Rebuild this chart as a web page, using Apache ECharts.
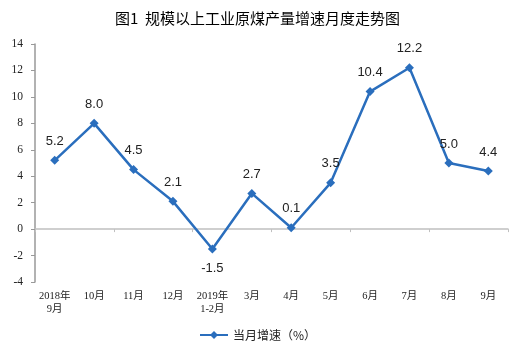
<!DOCTYPE html>
<html>
<head>
<meta charset="utf-8">
<script src="https://cdn.jsdelivr.net/npm/echarts@6/dist/echarts.min.js"></script>
<style>
  html, body { margin: 0; padding: 0; background: #fff; }
  #chart { width: 515px; height: 354px; }
</style>
</head>
<body>
<div id="chart"></div>
<script>
// 月份（横轴）
var months = ['2018年\n9月', '10月', '11月', '12月', '2019年\n1-2月', '3月', '4月', '5月', '6月', '7月', '8月', '9月'];
// 当月增速 (%)
var growth = [5.2, 8.0, 4.5, 2.1, -1.5, 2.7, 0.1, 3.5, 10.4, 12.2, 5.0, 4.4];
var yTicks = { min: -4, max: 14, step: 2 };

var lineColor = '#2a6ebd';
var chart = echarts.init(document.getElementById('chart'));

chart.setOption({
  animation: false,
  title: {
    text: '图1  规模以上工业原煤产量增速月度走势图',
    left: 'center',
    top: 6,
    textStyle: {
      fontFamily: 'Noto Sans CJK SC',
      fontSize: 15,
      fontWeight: 'normal',
      color: '#000'
    }
  },
  legend: {
    bottom: 8,
    left: 'center',
    itemWidth: 28,
    itemHeight: 10,
    textStyle: { fontFamily: 'Noto Sans CJK SC', fontSize: 12, color: '#222' },
    data: ['当月增速（%）']
  },
  grid: { left: 35, right: 7, top: 44, bottom: 72 },
  xAxis: [
    {
      type: 'category',
      data: months,
      position: 'bottom',
      axisLine: { show: false, onZero: false },
      axisTick: { show: false },
      axisLabel: {
        interval: 0,
        margin: 8,
        lineHeight: 13,
        fontFamily: 'Liberation Serif, Noto Sans CJK SC',
        fontSize: 10.5,
        color: '#222'
      }
    },
    {
      type: 'category',
      data: months,
      position: 'bottom',
      axisLine: { show: true, onZero: true, lineStyle: { color: '#c0c0c0', width: 1.5 } },
      axisTick: { show: true, inside: false, length: 3, lineStyle: { color: '#c0c0c0' } },
      axisLabel: { show: false }
    }
  ],
  yAxis: {
    type: 'value',
    min: yTicks.min,
    max: yTicks.max,
    interval: yTicks.step,
    axisLine: { show: true, lineStyle: { color: '#999', width: 1.5 } },
    axisTick: { show: true, length: 4, lineStyle: { color: '#999' } },
    splitLine: { show: false },
    axisLabel: {
      margin: 12,
      fontFamily: 'Liberation Serif',
      fontSize: 11.5,
      color: '#222'
    }
  },
  series: [
    {
      name: '当月增速（%）',
      type: 'line',
      data: growth.map(function (v) {
        return v < 0 ? { value: v, label: { position: 'bottom' } } : v;
      }),
      symbol: 'diamond',
      symbolSize: 9,
      itemStyle: { color: lineColor },
      lineStyle: { color: lineColor, width: 2.5 },
      label: {
        show: true,
        position: 'top',
        distance: 8,
        fontFamily: 'Liberation Sans',
        fontSize: 13,
        color: '#222',
        formatter: function (p) { return p.value.toFixed(1); }
      }
    }
  ]
});
</script>
</body>
</html>
